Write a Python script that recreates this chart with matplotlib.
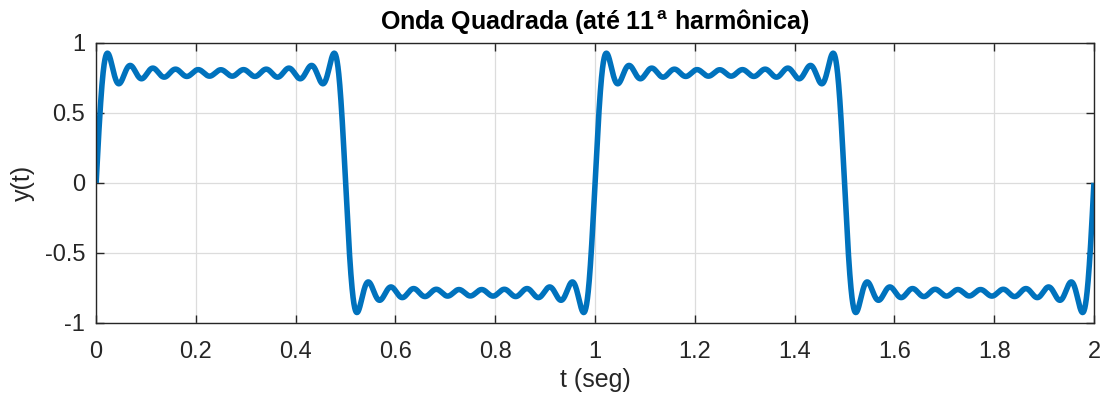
import numpy as np
import matplotlib.pyplot as plt

# square wave built from its first 11 odd harmonics and their amplitudes
harmonics = [1, 3, 5, 7, 9, 11, 13, 15, 17, 19, 21]
amplitudes = [1.0, 1 / 3, 1 / 5, 1 / 7, 1 / 9, 1 / 11, 1 / 13, 1 / 15, 1 / 17, 1 / 19, 1 / 21]
freq = 1.0            # Hz
t_start, t_end = 0.0, 2.0

xticks = [0, 0.2, 0.4, 0.6, 0.8, 1, 1.2, 1.4, 1.6, 1.8, 2]
xticklabels = ["0", "0.2", "0.4", "0.6", "0.8", "1", "1.2", "1.4", "1.6", "1.8", "2"]
yticks = [-1, -0.5, 0, 0.5, 1]
yticklabels = ["-1", "-0.5", "0", "0.5", "1"]

plt.rcParams['font.family'] = ['Liberation Sans', 'DejaVu Sans']
plt.rcParams['mathtext.fontset'] = 'custom'
plt.rcParams['mathtext.rm'] = 'Liberation Sans'
plt.rcParams['mathtext.bf'] = 'Liberation Sans:bold'

t = np.linspace(t_start, t_end, 6001)
y = np.zeros_like(t)
for n, a in zip(harmonics, amplitudes):
    y += a * np.sin(2 * np.pi * n * freq * t)

fig = plt.figure(figsize=(11.05, 4.01), dpi=100)
ax = fig.add_axes([0.087, 0.195, 0.903, 0.698])

ax.plot(t, y, color='#0072BD', linewidth=4.0, solid_capstyle='butt')

ax.set_xlim(0, 2)
ax.set_ylim(-1, 1)
ax.set_xticks(xticks)
ax.set_xticklabels(xticklabels)
ax.set_yticks(yticks)
ax.set_yticklabels(yticklabels)
ax.grid(True, color='#dcdcdc', linewidth=0.9)
ax.set_axisbelow(True)
ax.tick_params(direction='in', length=6, width=1.0, labelsize=17, colors='#262626',
               top=True, right=True)
ax.tick_params(axis='x', pad=13)
ax.tick_params(axis='y', pad=8)
for s in ax.spines.values():
    s.set_color('#262626')
    s.set_linewidth(1.0)

ax.set_xlabel("t (seg)", fontsize=18, color='#262626', labelpad=4)
ax.set_ylabel("y(t)", fontsize=18, color='#262626', labelpad=7)
ax.set_title(r"Onda Quadrada (até 11$^{\,\mathbf{a}}$ harmônica)", fontsize=18,
             fontweight='bold', pad=10)

fig.savefig("out.png", dpi=100)
